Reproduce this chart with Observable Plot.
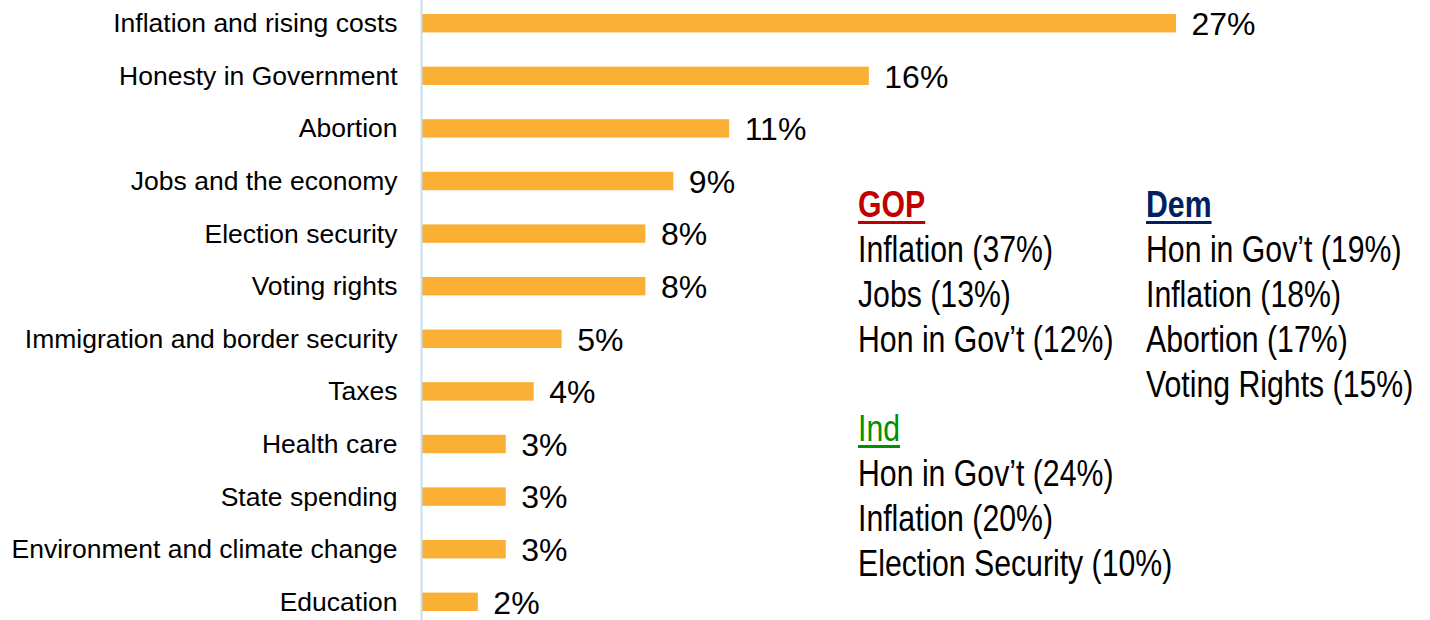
<!DOCTYPE html>
<html>
<head>
<meta charset="utf-8">
<script src="https://cdn.jsdelivr.net/npm/d3@7"></script>
<script src="https://cdn.jsdelivr.net/npm/@observablehq/plot@0.6"></script>
<style>
  html, body { margin: 0; padding: 0; background: #fff; }
  #wrap { position: relative; width: 1430px; height: 620px; overflow: hidden; font-family: "Liberation Sans", Arial, sans-serif; }
  .note { position: absolute; font-family: "Liberation Sans", Arial, sans-serif; font-size: 36px; line-height: 45px; color: #000; white-space: nowrap; }
  .note div { transform: scaleX(0.84); transform-origin: 0 50%; }
  .note .h { text-decoration: underline; text-decoration-thickness: 3px; text-underline-offset: 4px; }
  .gop { color: #C00000; font-weight: bold; }
  .dem { color: #002060; font-weight: bold; }
  .ind { color: #009000; }
</style>
</head>
<body>
<div id="wrap"></div>
<script>
const categories = [
  "Inflation and rising costs",
  "Honesty in Government",
  "Abortion",
  "Jobs and the economy",
  "Election security",
  "Voting rights",
  "Immigration and border security",
  "Taxes",
  "Health care",
  "State spending",
  "Environment and climate change",
  "Education"
];
const values = [27, 16, 11, 9, 8, 8, 5, 4, 3, 3, 3, 2];

const gopTitle = "GOP";
const gopItems = ["Inflation (37%)", "Jobs (13%)", "Hon in Gov’t (12%)"];
const demTitle = "Dem";
const demItems = ["Hon in Gov’t (19%)", "Inflation (18%)", "Abortion (17%)", "Voting Rights (15%)"];
const indTitle = "Ind";
const indItems = ["Hon in Gov’t (24%)", "Inflation (20%)", "Election Security (10%)"];

const data = categories.map((c, i) => ({category: c, value: values[i]}));

const chart = Plot.plot({
  width: 1430,
  height: 620,
  marginLeft: 422,
  marginRight: 254,
  marginTop: 14,
  marginBottom: 9,
  style: {fontFamily: '"Liberation Sans", Arial, sans-serif', color: "#000", background: "#fff"},
  x: {domain: [0, 27], axis: null},
  y: {domain: categories, paddingInner: 0.65, paddingOuter: 0, round: false, label: null},
  marks: [
    Plot.barX(data, {x: "value", y: "category", fill: "#F9B034"}),
    Plot.ruleX([0], {stroke: "#C5E0F4", strokeWidth: 2, dx: -1, insetTop: -14, insetBottom: -9}),
    Plot.text(data, {x: "value", y: "category", text: d => d.value + "%", textAnchor: "start", dx: 15, dy: 1, fontSize: 32, fill: "#000"}),
    Plot.axisY({tickSize: 0, tickPadding: 25, fontSize: 26.5, label: null, fill: "#000"})
  ]
});

const wrap = document.getElementById("wrap");
wrap.appendChild(chart);

function block(left, top, title, cls, items) {
  const d = document.createElement("div");
  d.className = "note";
  d.style.left = left + "px";
  d.style.top = top + "px";
  d.innerHTML = `<div><span class="h ${cls}">${title}</span></div>` + items.map(t => `<div>${t}</div>`).join("");
  wrap.appendChild(d);
}
block(858, 182, gopTitle, "gop", gopItems);
block(1146, 182, demTitle, "dem", demItems);
block(858, 406, indTitle, "ind", indItems);
</script>
</body>
</html>
